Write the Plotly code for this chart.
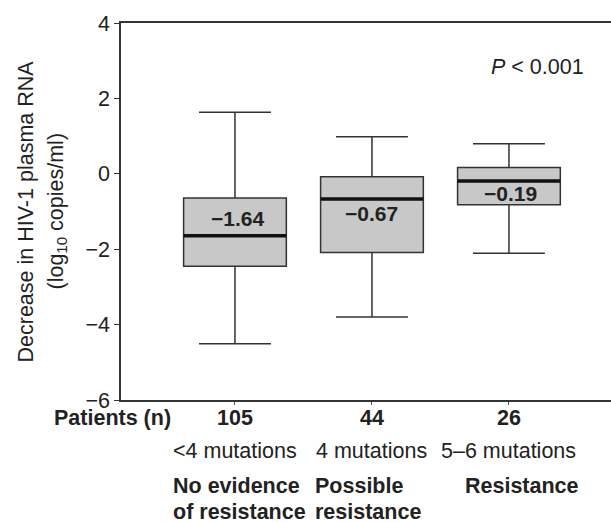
import plotly.graph_objects as go

# ---- data ----
positions = [0, 1, 2]
patients_n = ["105", "44", "26"]
mutations = ["&lt;4 mutations", "4 mutations", "5–6 mutations"]
group_line1 = ["No evidence", "Possible", "Resistance"]
group_line2 = ["of resistance", "resistance", ""]
q1 = [-2.45, -2.09, -0.82]
median = [-1.64, -0.67, -0.19]
q3 = [-0.64, -0.08, 0.17]
lowerfence = [-4.51, -3.80, -2.11]
upperfence = [1.63, 0.98, 0.80]
median_labels = ["−1.64", "−0.67", "−0.19"]
y_ticks = [-6, -4, -2, 0, 2, 4]

# ---- style ----
FONT = "Liberation Sans, Arial, sans-serif"
TXT = "#222222"
FS = 21.5
BOX_W = 0.75
label_offsets = [0.46, -0.38, -0.32]
label_dx = [0.02, 0.0, 0.01]
group_dx_px = [-64, -59, -46]

fig = go.Figure()
fig.add_trace(go.Box(
    x=positions, q1=q1, median=median, q3=q3,
    lowerfence=lowerfence, upperfence=upperfence,
    width=BOX_W, whiskerwidth=0.7, boxpoints=False,
    fillcolor="#c8c8c8", line=dict(color="#333333", width=1.5),
    hoverinfo="skip", showlegend=False,
))
for i, p in enumerate(positions):
    fig.add_trace(go.Scatter(
        x=[p - BOX_W / 2, p + BOX_W / 2], y=[median[i], median[i]],
        mode="lines", line=dict(color="#111111", width=3.5),
        hoverinfo="skip", showlegend=False,
    ))

ann = []
for i, p in enumerate(positions):
    ann.append(dict(x=p + label_dx[i], y=median[i] + label_offsets[i], xref="x", yref="y",
                    text="<b>" + median_labels[i] + "</b>", showarrow=False,
                    font=dict(size=21, color=TXT, family=FONT)))
    ann.append(dict(x=p, y=0, xref="x", yref="paper", yanchor="middle", yshift=-18,
                    text="<b>" + patients_n[i] + "</b>", showarrow=False,
                    font=dict(size=FS, color=TXT, family=FONT)))
    ann.append(dict(x=p, y=0, xref="x", yref="paper", yanchor="middle", yshift=-51,
                    text=mutations[i], showarrow=False,
                    font=dict(size=FS, color=TXT, family=FONT)))
    ann.append(dict(x=p, y=0, xref="x", yref="paper", xanchor="left", yanchor="middle",
                    xshift=group_dx_px[i], yshift=-86,
                    text="<b>" + group_line1[i] + "</b>", showarrow=False,
                    font=dict(size=FS, color=TXT, family=FONT)))
    if group_line2[i]:
        ann.append(dict(x=p, y=0, xref="x", yref="paper", xanchor="left", yanchor="middle",
                        xshift=group_dx_px[i], yshift=-111.5,
                        text="<b>" + group_line2[i] + "</b>", showarrow=False,
                        font=dict(size=FS, color=TXT, family=FONT)))

ann.append(dict(x=0, y=0, xref="paper", yref="paper", xanchor="right", yanchor="middle",
                xshift=52, yshift=-18, text="<b>Patients (n)</b>", showarrow=False,
                font=dict(size=FS, color=TXT, family=FONT)))
ann.append(dict(x=2.21, y=2.82, xref="x", yref="y", text="<i>P</i> &lt; 0.001",
                showarrow=False, font=dict(size=FS, color=TXT, family=FONT)))
ann.append(dict(x=0, y=0.5, xref="paper", yref="paper", xanchor="center", yanchor="middle",
                xshift=-96, text="Decrease in HIV-1 plasma RNA", textangle=-90,
                showarrow=False, font=dict(size=FS, color=TXT, family=FONT)))
ann.append(dict(x=0, y=0.5, xref="paper", yref="paper", xanchor="center", yanchor="middle",
                xshift=-64, text="(log<sub>10</sub> copies/ml)", textangle=-90,
                showarrow=False, font=dict(size=FS, color=TXT, family=FONT)))

fig.update_layout(
    width=611, height=522,
    margin=dict(l=121, r=0, t=23, b=122),
    paper_bgcolor="white", plot_bgcolor="white",
    annotations=ann,
    font=dict(family=FONT, color=TXT, size=FS),
    xaxis=dict(range=[-0.832, 2.745], showgrid=False, zeroline=False,
               showline=True, linecolor="#333333", linewidth=1.5, mirror=True,
               tickvals=positions, ticktext=["", "", ""], ticks="outside",
               ticklen=3, tickcolor="#555555", showticklabels=False),
    yaxis=dict(range=[-6, 4], showgrid=False, zeroline=False,
               showline=True, linecolor="#333333", linewidth=1.5,
               tickvals=y_ticks, ticks="outside", ticklen=5, tickcolor="#333333",
               tickfont=dict(size=FS, color=TXT, family=FONT)),
)

fig.write_html("out.html", config={"displayModeBar": False},
               post_script="document.body.style.margin='0px';")
